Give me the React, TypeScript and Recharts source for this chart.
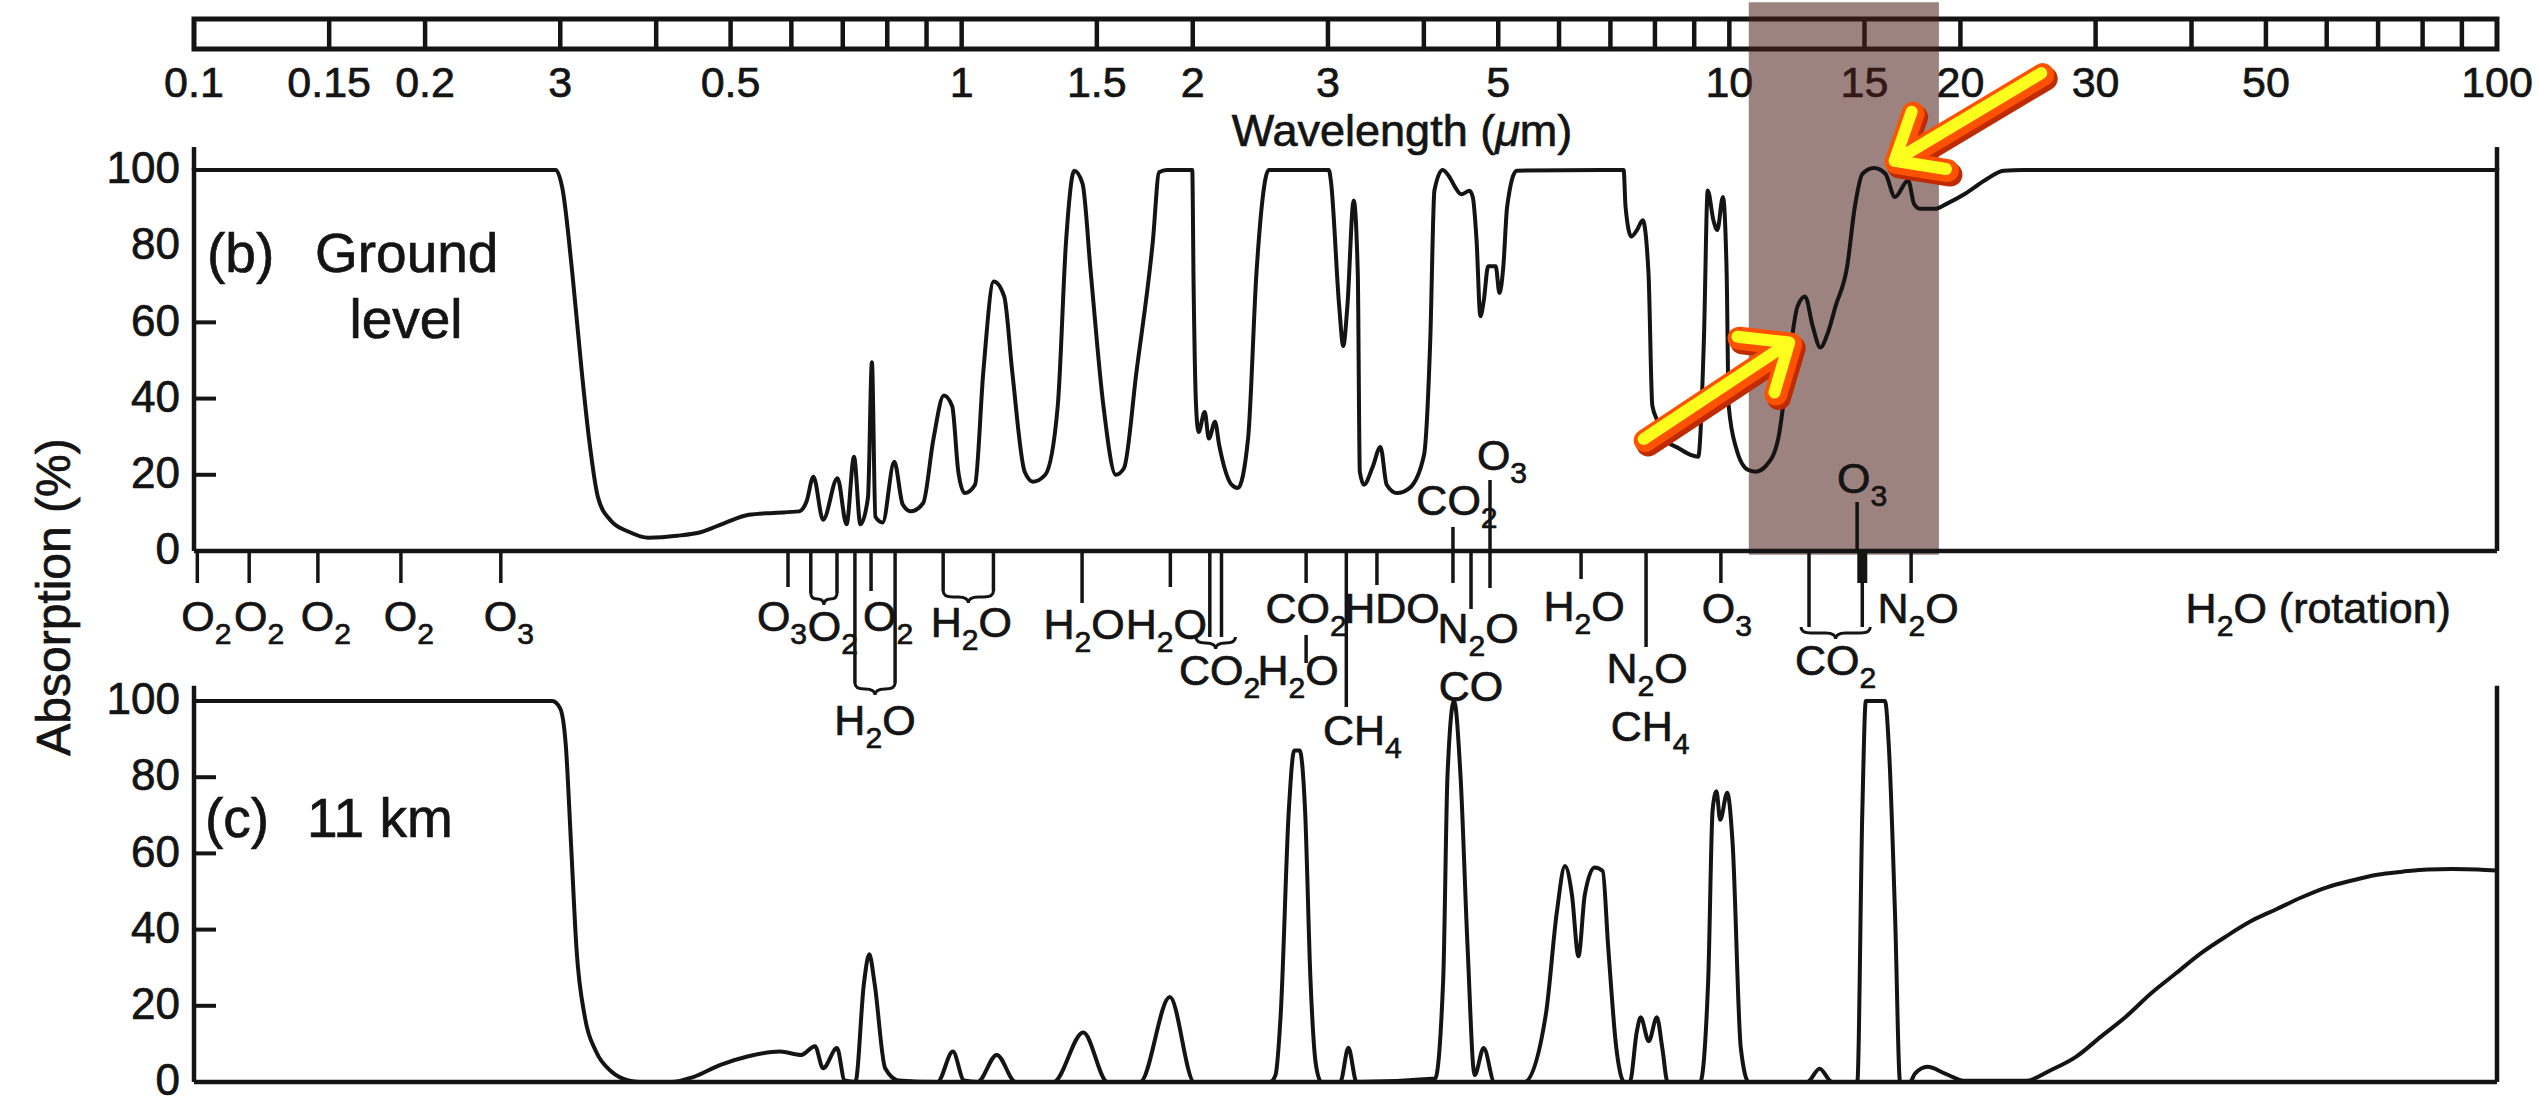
import React from 'react';
import { ComposedChart, Line, XAxis, YAxis, ReferenceLine, ReferenceArea } from 'recharts';

const W = 2539;
const H = 1104;
const PL = 194;
const PR = 2497;
const RW = 20;
const INK = '#141414';
const FONT = '"Liberation Sans", Arial, Helvetica, sans-serif';
const TXT_STROKE = 0.7;

// ---------- top wavelength bar ----------
const topDividers = [0.15, 0.2, 0.3, 0.4, 0.5, 0.6, 0.7, 0.8, 0.9, 1, 1.5, 2, 3, 4, 5, 6, 7, 8, 9, 10, 15, 20, 30, 40, 50, 60, 70, 80, 90];
const topTickValues = [0.1, 0.15, 0.2, 0.3, 0.5, 1, 1.5, 2, 3, 5, 10, 15, 20, 30, 50, 100];
const topTickLabels = ['0.1', '0.15', '0.2', '3', '0.5', '1', '1.5', '2', '3', '5', '10', '15', '20', '30', '50', '100'];
const yTicks = [0, 20, 40, 60, 80, 100];

// ---------- panel (b) ground level ----------
const bWl = [0.1, 0.296, 0.302, 0.311, 0.32, 0.327, 0.336, 0.349, 0.369, 0.391, 0.426, 0.458, 0.492, 0.528, 0.568, 0.614, 0.628, 0.641, 0.66, 0.689, 0.708, 0.724, 0.738, 0.755, 0.764, 0.772, 0.789, 0.817, 0.838, 0.859, 0.891, 0.919, 0.948, 0.972, 0.99, 1.009, 1.041, 1.067, 1.101, 1.136, 1.164, 1.208, 1.239, 1.285, 1.334, 1.368, 1.402, 1.437, 1.473, 1.53, 1.588, 1.627, 1.689, 1.775, 1.808, 1.85, 1.997, 2.005, 2.02, 2.035, 2.073, 2.099, 2.138, 2.165, 2.247, 2.289, 2.361, 2.421, 2.513, 3.008, 3.027, 3.103, 3.141, 3.18, 3.241, 3.281, 3.301, 3.342, 3.43, 3.512, 3.578, 3.691, 3.831, 4.002, 4.078, 4.129, 4.232, 4.324, 4.393, 4.475, 4.587, 4.632, 4.685, 4.739, 4.79, 4.85, 4.962, 5.018, 5.077, 5.135, 5.284, 7.283, 7.325, 7.453, 7.58, 7.712, 7.847, 7.937, 8.07, 8.215, 8.601, 8.902, 9.108, 9.266, 9.372, 9.533, 9.646, 9.81, 9.92, 9.98, 10.21, 10.57, 10.81, 11.19, 11.58, 11.99, 12.27, 12.55, 12.84, 13.14, 13.44, 13.75, 14.24, 14.57, 14.91, 15.43, 15.97, 16.43, 17.1, 17.4, 17.7, 18.53, 19.18, 20.31, 21.5, 22.77, 24.12, 25.5, 100];
const bAbs = [100, 100, 95, 73, 47, 29.5, 14, 8, 5, 3.5, 4, 5, 7.4, 9.5, 10, 10.4, 13, 19.5, 8.2, 19.1, 7, 24.7, 7, 14, 49.5, 9, 7.5, 23.4, 12.2, 10.4, 12.6, 29.5, 40.8, 38, 20.8, 15.2, 17.4, 46.9, 70.7, 66.8, 46.9, 20.8, 18.2, 20, 38, 81.6, 99.8, 96.4, 72.9, 38, 20, 21.7, 46.9, 81.6, 99.4, 100, 100, 70, 38, 31.2, 36.5, 29.5, 33.9, 27.8, 17.4, 16.5, 29.5, 72.9, 100, 100, 97, 64.2, 53.8, 64.2, 92, 72.9, 20.8, 17.4, 22, 27.3, 17.4, 15.2, 16.5, 25.2, 55.6, 94.6, 100, 98, 95.5, 93.6, 94.5, 92.9, 81.6, 61.6, 66, 74.7, 74.7, 67.7, 74.7, 90.3, 99.8, 100, 90.3, 82.5, 84.2, 86.8, 72.9, 38.2, 33.9, 29.5, 26.9, 25.2, 24.7, 55.6, 94.6, 86.8, 84.2, 92.9, 72.9, 38.2, 26.9, 21.3, 20.8, 22.6, 29.5, 52.1, 64.2, 66.8, 59, 53.4, 57.3, 64.2, 74.7, 90.3, 99, 100.5, 99, 92.9, 97.2, 91.1, 89.8, 89.8, 91.1, 93.8, 97.2, 99.8, 100, 100, 100];

// ---------- panel (c) 11 km ----------
const cWl = [0.1, 0.293, 0.3, 0.305, 0.31, 0.315, 0.323, 0.334, 0.35, 0.368, 0.38, 0.419, 0.447, 0.485, 0.526, 0.58, 0.618, 0.644, 0.66, 0.688, 0.704, 0.727, 0.746, 0.758, 0.77, 0.795, 0.828, 0.93, 0.974, 1.007, 1.049, 1.111, 1.176, 1.317, 1.44, 1.549, 1.708, 1.867, 2.009, 2.521, 2.563, 2.604, 2.668, 2.712, 2.756, 2.801, 2.847, 2.894, 2.941, 3.113, 3.19, 3.269, 4.137, 4.239, 4.294, 4.379, 4.465, 4.56, 4.658, 4.786, 4.944, 5.408, 5.769, 5.961, 6.108, 6.237, 6.36, 6.482, 6.676, 6.84, 6.952, 7.125, 7.3, 7.419, 7.579, 7.665, 7.853, 8.046, 8.179, 8.31, 9.162, 9.386, 9.511, 9.621, 9.73, 9.937, 10.1, 10.35, 10.6, 12.63, 13.11, 13.61, 14.68, 14.9, 15.06, 15.95, 16.14, 16.44, 16.69, 17.19, 17.45, 18.12, 19.1, 20.3, 24.32, 26.22, 28.28, 30.48, 32.88, 35.44, 38.21, 41.21, 44.43, 47.9, 51.66, 55.69, 60.05, 64.75, 69.83, 75.29, 81.19, 87.53, 94.39, 100];
const cAbs = [100, 100, 98, 88.4, 61.6, 34.8, 17, 8, 2.7, 0.4, 0, 0, 1.3, 4.5, 6.7, 8, 7.1, 9.4, 3.6, 8.9, 0.4, 0, 26, 33.5, 26, 3.6, 0.4, 0, 8, 0.4, 0, 7.1, 0, 0, 13, 0, 0, 22.3, 0, 0, 1.8, 17.9, 71.4, 87, 87, 71.4, 26.8, 4.5, 0, 0, 9, 0, 0.9, 26.8, 80.4, 100, 80.4, 35.7, 1.8, 8.9, 0, 0, 17.9, 44.6, 56.7, 49.1, 33, 49.1, 56.3, 55.4, 35.7, 8.9, 0, 0, 13.4, 17, 10.7, 17, 8.9, 0, 0, 26.8, 71.4, 76.3, 68.8, 75.9, 62.5, 8.9, 0, 0, 3.5, 0, 0, 70.5, 100, 100, 87.7, 43.6, 0, 0, 2.2, 4, 2.2, 0.3, 0.3, 3.1, 6.6, 11.9, 17.2, 23.3, 28.6, 33.9, 38.3, 42.3, 45.4, 48.5, 51.1, 52.9, 54.4, 55.2, 55.8, 55.9, 55.8, 55.5];

// ---------- absorber annotations (wavelength, pair end, labels) ----------
const molWl = [0.101, 0.118, 0.145, 0.186, 0.251, 0.594, 0.636, 0.726, 0.762, 0.946, 1.435, 1.87, 2.105, 2.81, 3.17, 3.475, 4.365, 4.608, 4.878, 6.41, 7.79, 9.75, 12.7, 14.67, 17.25, 58.5];
const molWl2: (number | null)[] = [null, null, null, null, null, null, 0.688, 0.819, null, 1.1, null, null, 2.18, null, null, null, null, null, null, null, null, null, 14.9, null, null, null];
const molText = [['O_2'], ['O_2'], ['O_2'], ['O_2'], ['O_3'], ['O_3'], ['O_2'], ['H_2O'], ['O_2'], ['H_2O'], ['H_2O'], ['H_2O'], ['CO_2'], ['CO_2', 'H_2O'], ['CH_4'], ['HDO'], ['CO_2'], ['N_2O', 'CO'], ['O_3'], ['H_2O'], ['N_2O', 'CH_4'], ['O_3'], ['CO_2'], ['O_3'], ['N_2O'], ['H_2O (rotation)']];

// layout (pixels, relative to the zero line) for each annotation
type Lay = { down?: number; up?: number; brace?: number; braceExt?: number; thick?: number; extra?: [number, number]; lab: [number, number][] };
const molLayout: Lay[] = [
  { down: 32, lab: [[9, 80]] },
  { down: 32, lab: [[10, 80]] },
  { down: 32, lab: [[8, 80]] },
  { down: 32, lab: [[8, 80]] },
  { down: 32, lab: [[8, 80]] },
  { down: 36, lab: [[-6, 80]] },
  { down: 42, brace: 42, lab: [[9, 90]] },
  { down: 132, brace: 132, lab: [[0, 184]] },
  { down: 40, lab: [[17, 80]] },
  { down: 40, brace: 40, lab: [[3, 86]] },
  { down: 52, lab: [[2, 88]] },
  { down: 36, lab: [[-4, 88]] },
  { down: 86, brace: 86, braceExt: 14, lab: [[4, 134]] },
  { down: 32, extra: [84, 112], lab: [[0, 72], [-8, 134]] },
  { down: 156, lab: [[16, 194]] },
  { down: 34, lab: [[15, 72]] },
  { up: 24, down: 32, lab: [[4, -36]] },
  { down: 58, lab: [[7, 92], [0, 150]] },
  { up: 71, down: 37, lab: [[12, -81]] },
  { down: 28, lab: [[3, 70]] },
  { down: 96, lab: [[1, 132], [4, 190]] },
  { down: 32, lab: [[6, 72]] },
  { down: 76, brace: 76, braceExt: 8, thick: 32, lab: [[0, 124]] },
  { up: 49, lab: [[5, -58]] },
  { down: 32, lab: [[7, 72]] },
  { lab: [[0, 72]] },
];

// highlight band & arrows (data coordinates of panel b)
const bandWl = [10.6, 18.75];
const bandAbs = [-1, 144];
const arrowSegs = [
  [{ x: 7.77, y: 29 }, { x: 12.02, y: 54.3 }],
  [{ x: 25.6, y: 125 }, { x: 16.49, y: 102 }],
];

const bData = bWl.map((wl, i) => ({ wl, a: bAbs[i] }));
const cData = cWl.map((wl, i) => ({ wl, a: cAbs[i] }));
const barData = [{ wl: 0.1, v: 0 }, { wl: 100, v: 1 }];

function Chem({ x, y, t, size = 43 }: any) {
  const segs: { s: string; sub: boolean }[] = [];
  for (let k = 0; k < t.length; k++) {
    let c = t[k];
    let sub = false;
    if (c === '_') { sub = true; k++; c = t[k]; }
    const last = segs[segs.length - 1];
    if (last && last.sub === sub) last.s += c;
    else segs.push({ s: c, sub });
  }
  const off = size * 0.3;
  let prev = false;
  const spans = segs.map((g, i) => {
    const dy = g.sub && !prev ? off : !g.sub && prev ? -off : 0;
    prev = g.sub;
    return (
      <tspan key={i} dy={dy} fontSize={g.sub ? size * 0.7 : size}>{g.s}</tspan>
    );
  });
  return (
    <text x={x} y={y} textAnchor="middle" fontSize={size} fill={INK} stroke={INK} strokeWidth={TXT_STROKE} fontFamily={FONT} style={{ whiteSpace: 'pre' }}>
      {spans}
    </text>
  );
}

function MolMark(p: any) {
  const { x1, y1, x2, idx } = p;
  const L = molLayout[idx];
  const texts = molText[idx];
  const pair = molWl2[idx] != null;
  const xs = pair ? [x1, x2] : [x1];
  const cx = pair ? (x1 + x2) / 2 : x1;
  const out: any[] = [];
  if (L.down || L.up) {
    xs.forEach((x: number, k: number) =>
      out.push(<line key={'l' + k} x1={x} x2={x} y1={y1 - (L.up || 0)} y2={y1 + (L.down || 0)} stroke={INK} strokeWidth={3.5} />)
    );
  }
  if (L.thick) out.push(<line key="th" x1={x2} x2={x2} y1={y1} y2={y1 + L.thick} stroke={INK} strokeWidth={10} />);
  if (L.extra) out.push(<line key="ex" x1={x1} x2={x1} y1={y1 + L.extra[0]} y2={y1 + L.extra[1]} stroke={INK} strokeWidth={3.5} />);
  if (pair && L.brace != null) {
    const e = L.braceExt || 0;
    const a = x1 - e;
    const b = x2 + e;
    const y = y1 + L.brace;
    const h = 12;
    const m = (a + b) / 2;
    const r = Math.min(10, (b - a) / 4);
    const d = `M${a},${y} Q${a},${y + h / 2} ${a + r},${y + h / 2} L${m - r},${y + h / 2} Q${m},${y + h / 2} ${m},${y + h} Q${m},${y + h / 2} ${m + r},${y + h / 2} L${b - r},${y + h / 2} Q${b},${y + h / 2} ${b},${y}`;
    out.push(<path key="br" d={d} fill="none" stroke={INK} strokeWidth={3} />);
  }
  L.lab.forEach(([dx, by], j) => out.push(<Chem key={'t' + j} x={cx + dx} y={y1 + by} t={texts[j]} />));
  return <g>{out}</g>;
}

function ArrowShape(p: any) {
  const { x1, y1, x2, y2 } = p;
  const ang = Math.atan2(y2 - y1, x2 - x1);
  const len = 52;
  const spread = (40 * Math.PI) / 180;
  const ax = x2 - len * Math.cos(ang - spread);
  const ay = y2 - len * Math.sin(ang - spread);
  const bx = x2 - len * Math.cos(ang + spread);
  const by = y2 - len * Math.sin(ang + spread);
  const d = `M${x1},${y1} L${x2},${y2} M${ax},${ay} L${x2},${y2} L${bx},${by}`;
  return (
    <g>
      <path d={d} transform="translate(3,4)" stroke="#c02a00" strokeWidth={24} fill="none" strokeLinecap="round" strokeLinejoin="round" />
      <path d={d} stroke="#ff5200" strokeWidth={23} fill="none" strokeLinecap="round" strokeLinejoin="round" />
      <path d={d} transform="translate(-1.5,-1.5)" stroke="#ffff1e" strokeWidth={12} fill="none" strokeLinecap="round" strokeLinejoin="round" />
    </g>
  );
}

const leftTick = (inner: number[]) => (p: any) => {
  const v = p.payload.value;
  return (
    <g>
      <text x={p.x - 14} y={p.y} dy="0.3em" textAnchor="end" fontSize={44} fill={INK} stroke={INK} strokeWidth={TXT_STROKE} fontFamily={FONT}>{v}</text>
      {inner.includes(v) ? <line x1={p.x} x2={p.x + 22} y1={p.y} y2={p.y} stroke={INK} strokeWidth={4} /> : null}
    </g>
  );
};
const rightTick = (inner: number[]) => (p: any) => {
  const v = p.payload.value;
  return inner.includes(v) ? <line x1={p.x} x2={p.x - 22} y1={p.y} y2={p.y} stroke={INK} strokeWidth={4} /> : <g />;
};
const TopTick = (p: any) => {
  const i = topTickValues.indexOf(p.payload.value);
  return (
    <text x={p.x} y={p.y + 48} textAnchor="middle" fontSize={43} fill={INK} stroke={INK} strokeWidth={TXT_STROKE} fontFamily={FONT}>
      {topTickLabels[i >= 0 ? i : p.index]}
    </text>
  );
};

const layer: React.CSSProperties = { position: 'absolute', left: 0, top: 0 };
const axisLine = { stroke: INK, strokeWidth: 4.5 };

function Panel({ data, top, bottom, leftInner, rightInner, ext, children }: any) {
  return (
    <ComposedChart width={W} height={H} data={data} margin={{ top, right: W - PR - RW, bottom: H - bottom - 2, left: 0 }}>
      <XAxis type="number" dataKey="wl" scale="log" domain={[0.1, 100]} allowDataOverflow ticks={[]} tick={false} tickLine={false} axisLine={axisLine} height={2} />
      <YAxis yAxisId="l" width={PL} domain={[0, 100]} ticks={yTicks} interval={0} tickLine={false} tickSize={0} tickMargin={0} axisLine={axisLine} tick={leftTick(leftInner)} />
      <YAxis yAxisId="r" orientation="right" width={RW} domain={[0, 100]} ticks={yTicks} interval={0} tickLine={false} tickSize={0} tickMargin={0} axisLine={axisLine} tick={rightTick(rightInner)} />
      <ReferenceLine yAxisId="l" ifOverflow="visible" segment={[{ x: 0.1, y: 100 }, { x: 0.1, y: 100 + ext }]} stroke={INK} strokeWidth={4.5} />
      <ReferenceLine yAxisId="l" ifOverflow="visible" segment={[{ x: 100, y: 100 }, { x: 100, y: 100 + ext }]} stroke={INK} strokeWidth={4.5} />
      <Line yAxisId="l" dataKey="a" type="monotone" stroke={INK} strokeWidth={4} dot={false} isAnimationActive={false} />
      {children}
    </ComposedChart>
  );
}

export default function App() {
  return (
    <div style={{ position: 'absolute', left: 0, top: 0, width: W, height: H, background: '#fff', fontFamily: FONT, overflow: 'hidden' }}>
      <div style={layer}>
        <ComposedChart width={W} height={H} data={barData} margin={{ top: 19, right: W - PR, bottom: H - 49 - 60, left: PL }}>
          <XAxis type="number" dataKey="wl" scale="log" domain={[0.1, 100]} allowDataOverflow ticks={topTickValues} interval={0} tick={TopTick} tickLine={false} tickSize={0} tickMargin={0} axisLine={false} height={60} />
          <YAxis hide domain={[0, 1]} />
          <Line dataKey="v" stroke="none" dot={false} isAnimationActive={false} />
          <ReferenceArea x1={0.1} x2={100} fill="#fff" fillOpacity={0} stroke={INK} strokeWidth={5} />
          {topDividers.map((v) => (
            <ReferenceLine key={v} x={v} stroke={INK} strokeWidth={4.5} />
          ))}
        </ComposedChart>
      </div>
      <div style={layer}>
        <Panel data={bData} top={168} bottom={551} leftInner={[20, 40, 60]} rightInner={[20, 40, 60, 80]} ext={6}>
          {molWl.map((w, i) => (
            <ReferenceLine
              key={'m' + i}
              yAxisId="l"
              ifOverflow="visible"
              segment={[{ x: w, y: 0 }, { x: molWl2[i] ?? w, y: 0 }]}
              shape={(p: any) => <MolMark {...p} idx={i} />}
            />
          ))}
          <ReferenceArea yAxisId="l" ifOverflow="visible" x1={bandWl[0]} x2={bandWl[1]} y1={bandAbs[0]} y2={bandAbs[1]} fill="#4a1e16" fillOpacity={0.55} stroke="none" />
          {arrowSegs.map((s, i) => (
            <ReferenceLine key={'a' + i} yAxisId="l" ifOverflow="visible" segment={s} shape={ArrowShape} />
          ))}
        </Panel>
      </div>
      <div style={layer}>
        <Panel data={cData} top={701} bottom={1082} leftInner={[20, 40, 60, 80]} rightInner={[20, 40, 60, 80, 100]} ext={4}>
        </Panel>
      </div>
      <svg width={W} height={H} style={{ ...layer, pointerEvents: 'none' }} fontFamily={FONT} fill={INK} stroke={INK} strokeWidth={TXT_STROKE}>
        <text x={1402} y={146} textAnchor="middle" fontSize={45}>
          Wavelength (<tspan fontStyle="italic">μ</tspan>m)
        </text>
        <text x={207} y={272} fontSize={55}>(b)</text>
        <text x={315} y={272} fontSize={55}>Ground</text>
        <text x={406} y={338} fontSize={55} textAnchor="middle">level</text>
        <text x={205} y={837} fontSize={55}>(c)</text>
        <text x={307} y={837} fontSize={55}>11 km</text>
        <text transform="translate(70,597) rotate(-90)" textAnchor="middle" fontSize={48}>Absorption (%)</text>
      </svg>
    </div>
  );
}
